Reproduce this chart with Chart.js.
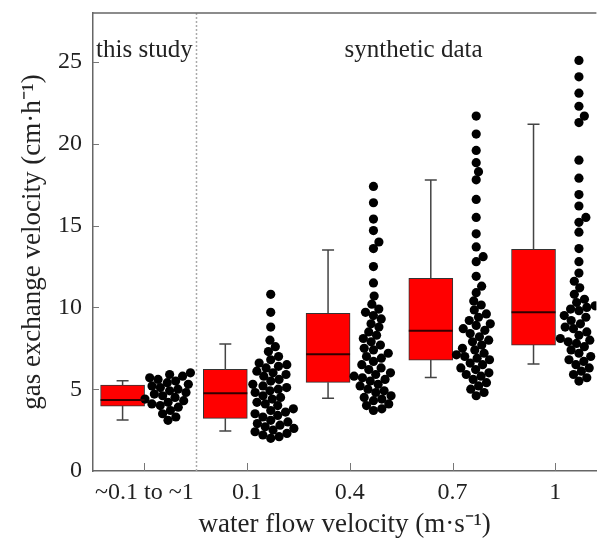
<!DOCTYPE html>
<html><head><meta charset="utf-8">
<script src="https://cdn.jsdelivr.net/npm/chart.js@4"></script>
<style>html,body{margin:0;padding:0;background:#fff;overflow:hidden}#wrap{width:601px;height:544px;position:relative}</style>
</head><body><div id="wrap"><canvas id="c" width="601" height="544"></canvas></div>
<script>
const categories = ['~0.1 to ~1', '0.1', '0.4', '0.7', '1'];
const yTickValues = [0, 5, 10, 15, 20, 25];
const whiskerLow  = [3.12, 2.44, 4.44, 5.71, 6.54];
const q1          = [3.97, 3.22, 5.42, 6.78, 7.70];
const median      = [4.34, 4.75, 7.13, 8.57, 9.70];
const q3          = [5.26, 6.21, 9.64, 11.78, 13.55];
const whiskerHigh = [5.52, 7.76, 13.51, 17.79, 21.2];

const pointsThisStudy = [6.0, 5.9, 5.8, 5.7, 5.6, 5.5, 5.4, 5.3, 5.2, 5.1, 5.0, 4.9, 4.8, 4.7, 4.6,
  4.5, 4.4, 4.3, 4.2, 4.1, 4.0, 3.9, 3.7, 3.5, 3.3, 3.1];
const points01 = [10.8, 9.7, 8.8, 8.0, 7.6, 7.3, 7.0, 6.8, 6.6, 6.5, 6.4, 6.3,
  6.1, 6.0, 5.9, 5.8, 5.6, 5.5, 5.3, 5.2, 5.1, 5.0, 4.9, 4.8,
  4.6, 4.5, 4.4, 4.2, 4.1, 4.0, 3.8, 3.7, 3.6, 3.5, 3.4, 3.3,
  3.1, 3.0, 2.9, 2.8, 2.7, 2.6, 2.5, 2.4, 2.3, 2.2, 2.1, 2.0];
const points04 = [17.4, 16.4, 15.4, 14.7, 14.0, 13.6, 12.5, 11.5, 10.7, 10.2, 9.9, 9.7,
  9.5, 9.3, 9.0, 8.8, 8.5, 8.3, 8.1, 7.9, 7.7, 7.5, 7.4, 7.2,
  7.0, 6.9, 6.7, 6.5, 6.3, 6.2, 6.0, 5.9, 5.8, 5.7, 5.6, 5.5,
  5.3, 5.2, 5.0, 4.9, 4.8, 4.6, 4.5, 4.4, 4.3, 4.1, 4.0, 3.8, 3.7];
const points07 = [21.7, 20.6, 19.6, 18.85, 18.3, 17.8, 16.6, 15.5, 14.5, 13.7, 13.1, 12.8, 11.9,
  11.3, 10.9, 10.4, 10.15, 9.85, 9.6, 9.4, 9.2, 9.0, 8.9, 8.7, 8.6,
  8.4, 8.2, 8.0, 7.9, 7.7, 7.5, 7.4, 7.2, 7.1, 7.0, 6.9, 6.8,
  6.6, 6.5, 6.3, 6.2, 6.0, 5.9, 5.8, 5.6, 5.4, 5.2, 5.0, 4.8, 4.6];
const points1 = [25.1, 24.1, 23.1, 22.3, 21.7, 21.3, 19.0, 17.9, 16.9, 16.2, 15.5, 15.2, 14.6, 13.6,
  12.8, 12.1, 11.6, 11.2, 10.8, 10.5, 10.3, 10.1, 10.0, 9.9, 9.8,
  9.5, 9.4, 9.2, 9.0, 8.8, 8.7, 8.5, 8.3, 8.1, 8.0, 7.9, 7.8,
  7.6, 7.4, 7.2, 7.0, 6.8, 6.7, 6.5, 6.3, 6.1, 5.9, 5.7, 5.5];
const pointGroups = [pointsThisStudy, points01, points04, points07, points1];
const annotations = [
  { text: 'this study', x: 0, y: 25.7 },
  { text: 'synthetic data', x: 2.62, y: 25.7 }
];

const BOX_OFFSET = -0.212, SWARM_OFFSET = 0.23;
const SERIF = '"Liberation Serif", "Times New Roman", serif';
const INK = '#222';

const boxDataset = {
  type: 'bar',
  data: categories.map((c, i) => ({ x: i + BOX_OFFSET, y: [q1[i], q3[i]] })),
  backgroundColor: '#ff0000', borderColor: '#333', borderWidth: 1, borderSkipped: false,
  barThickness: 44, order: 2
};
const pointDatasets = pointGroups.map((g, i) => ({
  type: 'scatter',
  data: g.map(v => ({ x: i + SWARM_OFFSET, y: v })),
  backgroundColor: '#000', borderWidth: 0, pointRadius: 4.6, order: 1
}));

const decor = {
  id: 'decor',
  afterDatasetsDraw(chart) {
    const { ctx, chartArea: a, scales: { x, y } } = chart;
    ctx.save();
    categories.forEach((c, i) => {
      const cx = x.getPixelForValue(i + BOX_OFFSET);
      ctx.strokeStyle = '#444'; ctx.lineWidth = 1.5;
      ctx.beginPath();
      ctx.moveTo(cx, y.getPixelForValue(q3[i])); ctx.lineTo(cx, y.getPixelForValue(whiskerHigh[i]));
      ctx.moveTo(cx, y.getPixelForValue(q1[i])); ctx.lineTo(cx, y.getPixelForValue(whiskerLow[i]));
      ctx.moveTo(cx - 6, y.getPixelForValue(whiskerHigh[i])); ctx.lineTo(cx + 6, y.getPixelForValue(whiskerHigh[i]));
      ctx.moveTo(cx - 6, y.getPixelForValue(whiskerLow[i])); ctx.lineTo(cx + 6, y.getPixelForValue(whiskerLow[i]));
      ctx.stroke();
      ctx.strokeStyle = '#300'; ctx.lineWidth = 2;
      ctx.beginPath();
      ctx.moveTo(cx - 22, y.getPixelForValue(median[i])); ctx.lineTo(cx + 22, y.getPixelForValue(median[i]));
      ctx.stroke();
    });
    ctx.strokeStyle = '#aaa'; ctx.lineWidth = 1.5; ctx.setLineDash([2, 2]);
    const sx = Math.round(x.getPixelForValue(0.5)) + 0.5;
    ctx.beginPath(); ctx.moveTo(sx, a.top); ctx.lineTo(sx, a.bottom); ctx.stroke();
    ctx.setLineDash([]);
    ctx.strokeStyle = '#666'; ctx.lineWidth = 1.5;
    ctx.beginPath(); ctx.moveTo(a.left, a.top); ctx.lineTo(a.right, a.top); ctx.stroke();
    ctx.strokeStyle = '#777'; ctx.lineWidth = 1;
    ctx.beginPath();
    categories.forEach((c, i) => { const px = Math.round(x.getPixelForValue(i)) + 0.5; ctx.moveTo(px, a.bottom); ctx.lineTo(px, a.bottom - 8); });
    yTickValues.forEach(v => { if (v === 0) return; const py = Math.round(y.getPixelForValue(v)) + 0.5; ctx.moveTo(a.left, py); ctx.lineTo(a.left + 6, py); });
    ctx.stroke();
    ctx.fillStyle = INK; ctx.font = '25px ' + SERIF; ctx.textAlign = 'center'; ctx.textBaseline = 'middle';
    annotations.forEach(t => ctx.fillText(t.text, x.getPixelForValue(t.x), y.getPixelForValue(t.y)));
    ctx.restore();
  }
};

const chart = new Chart(document.getElementById('c'), {
  type: 'bar',
  data: { datasets: [boxDataset, ...pointDatasets] },
  options: {
    responsive: false, animation: false, events: [],
    layout: { padding: { top: 13, left: 0, right: 0, bottom: 0 } },
    plugins: { legend: { display: false }, tooltip: { enabled: false } },
    scales: {
      x: {
        type: 'linear', min: -0.5, max: 4.4, offset: false,
        afterBuildTicks: s => { s.ticks = categories.map((c, i) => ({ value: i })); },
        afterFit: s => { s.height = 73; s.paddingLeft = 0; s.paddingRight = 0; },
        grid: { display: false, drawTicks: false },
        border: { display: true, color: '#666', width: 1.5 },
        ticks: { autoSkip: false, maxRotation: 0, padding: 7, color: INK, font: { family: SERIF, size: 24 },
          callback: v => categories[v] },
        title: { display: true, text: 'water flow velocity (m·s⁻¹)', color: INK, font: { family: SERIF, size: 27 }, padding: { top: 0, bottom: 3 } }
      },
      y: {
        min: 0, max: 28,
        afterBuildTicks: s => { s.ticks = yTickValues.map(v => ({ value: v })); },
        afterFit: s => { s.width = 93; s.paddingTop = 0; s.paddingBottom = 0; },
        grid: { display: false, drawTicks: false },
        border: { display: true, color: '#666', width: 1.5 },
        ticks: { padding: 11, color: INK, font: { family: SERIF, size: 24 } },
        title: { display: true, text: 'gas exchange velocity (cm·h⁻¹)', color: INK, font: { family: SERIF, size: 27 }, padding: { top: 17, bottom: 0 } }
      }
    }
  },
  plugins: [decor]
});

function swarmOffsets(values, xs, ys, D) {
  const pxPerUnit = Math.abs(xs.getPixelForValue(1) - xs.getPixelForValue(0));
  const order = values.map((v, i) => i).sort((a, b) => values[a] - values[b]);
  const placed = [], off = new Array(values.length);
  for (const i of order) {
    const py = ys.getPixelForValue(values[i]);
    const cands = [0];
    placed.forEach(p => { const dy = Math.abs(p.y - py); if (dy < D) { const dx = Math.sqrt(D * D - dy * dy); cands.push(p.x + dx, p.x - dx); } });
    cands.sort((a, b) => Math.abs(a) - Math.abs(b) || b - a);
    const px = cands.find(c => placed.every(p => (p.x - c) ** 2 + (p.y - py) ** 2 >= D * D - 1e-6));
    placed.push({ x: px, y: py });
    off[i] = px / pxPerUnit;
  }
  return off;
}
pointGroups.forEach((g, i) => {
  const off = swarmOffsets(g, chart.scales.x, chart.scales.y, 8.5);
  chart.data.datasets[i + 1].data = g.map((v, k) => ({ x: i + SWARM_OFFSET + off[k], y: v }));
});
chart.update('none');
</script></body></html>
